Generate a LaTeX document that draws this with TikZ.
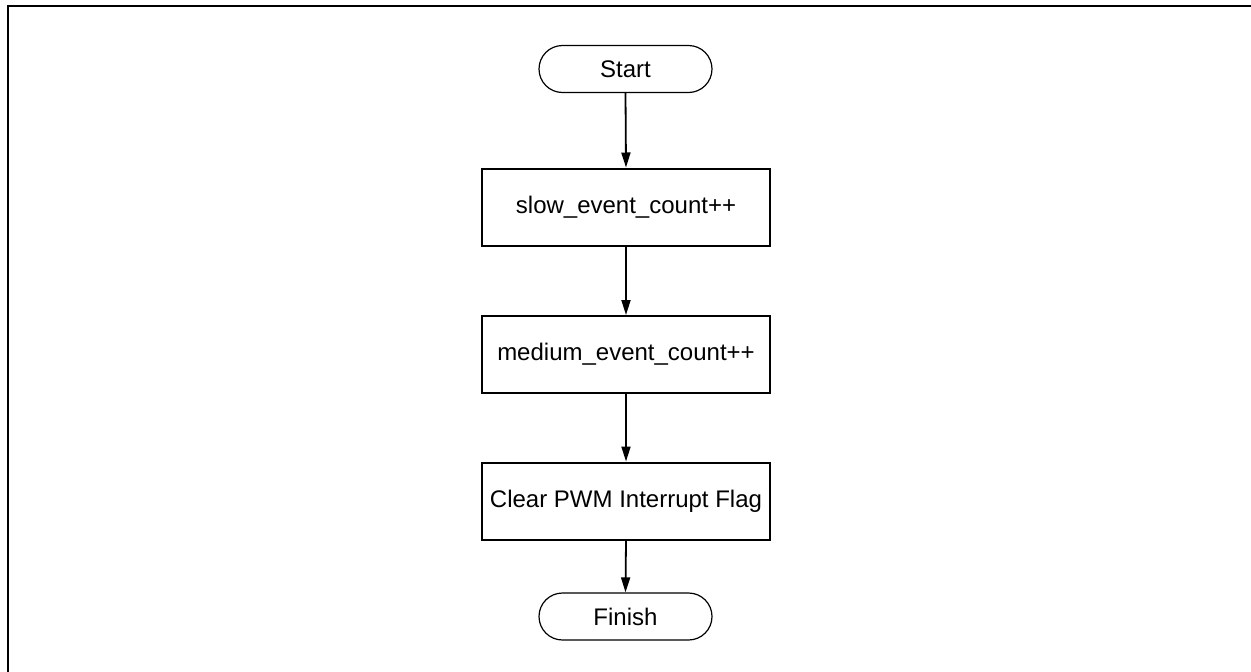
\documentclass[tikz,border=0pt]{standalone}
\usepackage{fontspec}
\setmainfont{Liberation Sans}
\usetikzlibrary{arrows.meta}
\begin{document}
\begin{tikzpicture}[x=1pt,y=-1pt,
  every node/.style={font=\fontsize{24}{28}\selectfont, inner sep=0pt},
  procbox/.style={draw, line width=2pt, minimum width=288pt, minimum height=77pt},
  terminal/.style={draw, line width=1.2pt, rounded corners=23.5pt, minimum width=173pt, minimum height=47pt},
  flow/.style={line width=1.8pt, -{Triangle[length=15pt,width=9pt]}}
]
\useasboundingbox (0,0) rectangle (1251,672);
% page frame (top and left edges)
\draw[line width=2pt] (8,672) -- (8,6) -- (1251,6);

\node[terminal] (start) at (625.5,69) {Start};
\node[procbox] (slow) at (626,207) {slow\_event\_count++};
\node[procbox] (medium) at (626,354.5) {medium\_event\_count++};
\node[procbox] (clear) at (626,501) {Clear PWM Interrupt Flag};
\node[terminal] (finish) at (625.5,616.5) {Finish};

\draw[flow] (start.south) -- (slow.north);
\draw[flow] (slow.south) -- (medium.north);
\draw[flow] (medium.south) -- (clear.north);
\draw[flow] (clear.south) -- (finish.north);
\end{tikzpicture}
\end{document}
